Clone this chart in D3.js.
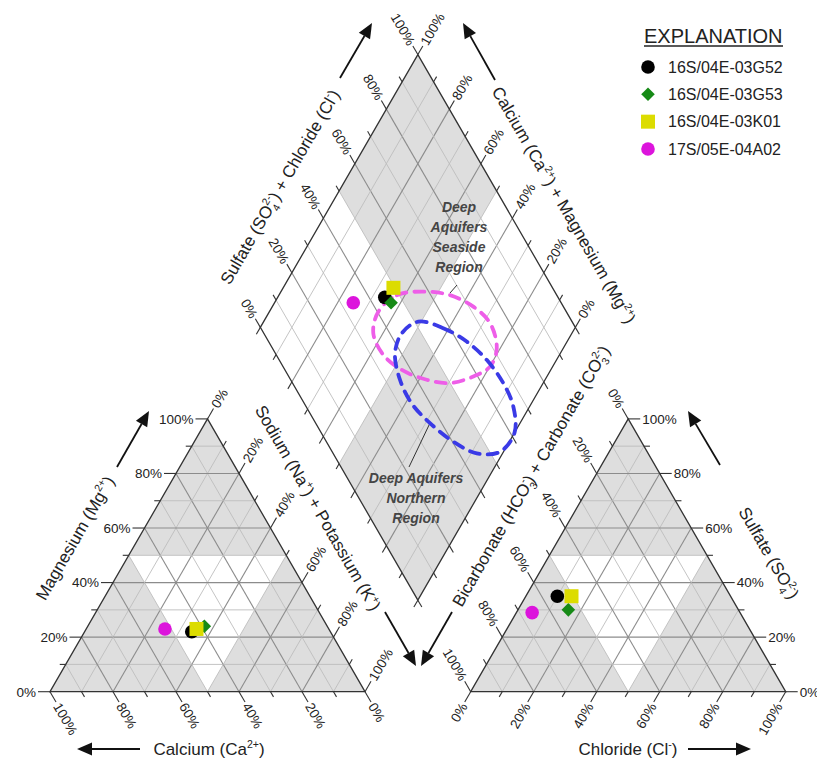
<!DOCTYPE html>
<html>
<head>
<meta charset="utf-8">
<script src="https://cdn.jsdelivr.net/npm/d3@7"></script>
<style>
  html, body { margin: 0; padding: 0; background: #ffffff; }
  svg { display: block; font-family: "Liberation Sans", Arial, sans-serif; }
</style>
</head>
<body>
<svg id="chart" width="817" height="764"></svg>
<script>
// ---- Sample data: major-ion composition, percent of total meq/L ----
const samples = ["16S/04E-03G52", "16S/04E-03G53", "16S/04E-03K01", "17S/05E-04A02"];
const sampleColors = ["#000000", "#168a16", "#dcdc00", "#dc14dc"];
const sampleShapes = ["circle", "diamond", "square", "circle"];

// cations
const calcium         = [44, 39, 42, 52];
const magnesium       = [22, 24, 23, 23];
const sodiumPotassium = [34, 37, 35, 25];
// anions
const bicarbonate = [55, 54, 50.5, 66];
const sulfate     = [35, 30, 35, 29];
const chloride    = [10, 16, 14.5, 5];

// axis ticks
const tickValues = [0, 10, 20, 30, 40, 50, 60, 70, 80, 90, 100];
const labelValues = [0, 20, 40, 60, 80, 100];
const tickLabels = ["0%", "20%", "40%", "60%", "80%", "100%"];

// water-type fields in the diamond, outline points as [SO4+Cl %, Ca+Mg %]
const seasideOutline = [
  [40.3, 65.4], [49.2, 62.6], [58.8, 54.3], [66.1, 45.7], [71.4, 36.2], [73.7, 27.9],
  [71.2, 21.1], [65.7, 19.9], [58.6, 23.4], [50.0, 29.6], [43.2, 37.6], [37.1, 47.3],
  [34.0, 55.9], [34.8, 63.1]
];
const northernOutline = [
  [51.2, 50.9], [57.9, 41.8], [62.9, 31.9], [65.9, 22.2], [66.9, 12.6], [65.8, 5.2],
  [61.4, 0.0], [53.3, 1.1], [45.6, 8.2], [40.3, 17.8], [36.3, 28.6], [34.1, 38.0],
  [34.7, 46.0], [38.0, 52.5], [43.8, 54.0]
];
const fieldNames = ["Deep Aquifers Seaside Region", "Deep Aquifers Northern Region"];
const fieldColors = ["#ee5ee8", "#3a3ae6"];

// ---- Layout ----
const svg = d3.select("#chart");
const S = 315;                       // triangle side
const H = S * Math.sqrt(3) / 2;      // triangle height
const GAP = 105.7;                   // gap between the two triangles
const X0 = 50, Y0 = 691.7;           // lower-left corner of cation triangle

const frac = d3.scaleLinear().domain([0, 100]).range([0, 1]);

// vertices
const vCa  = [X0, Y0], vNaK = [X0 + S, Y0], vMg = [X0 + S / 2, Y0 - H];
const vHCO3 = [X0 + S + GAP, Y0], vCl = [X0 + 2 * S + GAP, Y0], vSO4 = [X0 + S + GAP + S / 2, Y0 - H];
const dB = [X0 + S + GAP / 2, Y0 - GAP / 2 * Math.sqrt(3)];
const dL = [dB[0] - S / 2, dB[1] - H], dR = [dB[0] + S / 2, dB[1] - H], dT = [dB[0], dB[1] - 2 * H];

function mix(pts, w) {
  let x = 0, y = 0;
  pts.forEach((p, i) => { x += p[0] * w[i]; y += p[1] * w[i]; });
  return [x, y];
}
const cationPt = (ca, nak, mg) => mix([vCa, vNaK, vMg], [frac(ca), frac(nak), frac(mg)]);
const anionPt  = (hco3, cl, so4) => mix([vHCO3, vCl, vSO4], [frac(hco3), frac(cl), frac(so4)]);
// diamond: a = SO4+Cl, c = Ca+Mg
const diamondX = d3.scaleLinear().domain([-100, 100]).range([dB[0] - S / 2, dB[0] + S / 2]);
const diamondY = d3.scaleLinear().domain([0, 200]).range([dB[1], dT[1]]);
const diamondPt = (a, c) => [diamondX(a - c), diamondY(a + c)];

const GRAY = "#dedede";
const layerFill = svg.append("g");
const layerGrid = svg.append("g");
const layerEdge = svg.append("g");
const layerText = svg.append("g").attr("fill", "#222");
const layerMarks = svg.append("g");

const lineGen = d3.line();
function poly(g, pts, fill) {
  g.append("path").attr("d", lineGen(pts) + "Z").attr("fill", fill).attr("stroke", "none");
}
const mid = (p, q) => [(p[0] + q[0]) / 2, (p[1] + q[1]) / 2];

// ---- Shading ----
[[vCa, vNaK, vMg], [vHCO3, vCl, vSO4]].forEach(([a, b, c]) => {
  poly(layerFill, [a, b, c], GRAY);
  poly(layerFill, [mid(a, b), mid(b, c), mid(c, a)], "#ffffff");
});
const dC = mid(dL, dR);
poly(layerFill, [dT, mid(dT, dL), dC, mid(dT, dR)], GRAY);
poly(layerFill, [dB, mid(dB, dL), dC, mid(dB, dR)], GRAY);

// ---- Grid ----
function gridLine(p, q, v) {
  const major = v % 20 === 0;
  layerGrid.append("line")
    .attr("x1", p[0]).attr("y1", p[1]).attr("x2", q[0]).attr("y2", q[1])
    .attr("stroke", major ? "#8c8c8c" : "#bdbdbd")
    .attr("stroke-width", major ? 1.1 : 0.9);
}
tickValues.slice(1, -1).forEach(v => {
  // cation triangle
  gridLine(cationPt(100 - v, 0, v), cationPt(0, 100 - v, v), v);
  gridLine(cationPt(v, 100 - v, 0), cationPt(v, 0, 100 - v), v);
  gridLine(cationPt(100 - v, v, 0), cationPt(0, v, 100 - v), v);
  // anion triangle
  gridLine(anionPt(100 - v, 0, v), anionPt(0, 100 - v, v), v);
  gridLine(anionPt(v, 100 - v, 0), anionPt(v, 0, 100 - v), v);
  gridLine(anionPt(100 - v, v, 0), anionPt(0, v, 100 - v), v);
  // diamond
  gridLine(diamondPt(v, 0), diamondPt(v, 100), v);
  gridLine(diamondPt(0, v), diamondPt(100, v), v);
});

// ---- Outlines ----
[[vCa, vNaK, vMg], [vHCO3, vCl, vSO4], [dB, dR, dT, dL]].forEach(pts => {
  layerEdge.append("path").attr("d", lineGen(pts) + "Z")
    .attr("fill", "none").attr("stroke", "#333").attr("stroke-width", 1.3)
    .attr("stroke-linejoin", "miter");
});

// ---- Ticks and tick labels ----
const r3 = Math.sqrt(3) / 2;
function axis(pointAt, dir, rot, anchor, withLabels, majorLen, minorLen) {
  tickValues.forEach(v => {
    const p = pointAt(v);
    const major = v % 20 === 0;
    const len = major ? majorLen : minorLen;
    layerEdge.append("line")
      .attr("x1", p[0]).attr("y1", p[1])
      .attr("x2", p[0] + dir[0] * len).attr("y2", p[1] + dir[1] * len)
      .attr("stroke", "#333").attr("stroke-width", 1.1);
  });
  if (!withLabels) return;
  labelValues.forEach((v, i) => {
    const p = pointAt(v);
    const d = majorLen + 2;
    const x = p[0] + dir[0] * d, y = p[1] + dir[1] * d;
    layerText.append("text")
      .attr("transform", `translate(${x},${y}) rotate(${rot})`)
      .attr("text-anchor", anchor).attr("dy", "0.36em")
      .attr("font-size", 13.5).text(tickLabels[i]);
  });
}
// cation triangle
axis(v => cationPt(100 - v, 0, v), [-1, 0], 0, "end", true, 12, 6);            // Mg
axis(v => cationPt(0, v, 100 - v), [0.5, -r3], -60, "start", true, 12, 6);     // Na+K
axis(v => cationPt(v, 100 - v, 0), [0.5, r3], 60, "start", true, 12, 6);       // Ca
// anion triangle
axis(v => anionPt(0, 100 - v, v), [1, 0], 0, "start", true, 12, 6);            // SO4
axis(v => anionPt(v, 0, 100 - v), [-0.5, -r3], 60, "end", true, 12, 6);        // HCO3
axis(v => anionPt(100 - v, v, 0), [-0.5, r3], -60, "end", true, 12, 6);        // Cl
// diamond
axis(v => diamondPt(v, 100), [-0.5, -r3], 60, "end", true, 10, 6);            // SO4+Cl
axis(v => diamondPt(100, v), [0.5, -r3], -60, "start", true, 10, 6);           // Ca+Mg
axis(v => diamondPt(0, v), [-0.5, r3], 0, "end", false, 8, 6);
axis(v => diamondPt(v, 0), [0.5, r3], 0, "start", false, 8, 6);

// ---- Axis titles with sub/superscripts ----
function rich(sel, parts, size) {
  let shift = 0, lastSubW = 0;
  parts.forEach(([str, kind]) => {
    const t = sel.append("tspan").text(str);
    let target = 0, fs = size;
    if (kind === "sub") { target = 0.28 * size; fs = 0.62 * size; }
    else if (kind === "sup" || kind === "stack") { target = -0.42 * size; fs = 0.62 * size; }
    t.attr("font-size", fs);
    const dy = target - shift;
    if (Math.abs(dy) > 1e-6) t.attr("dy", dy);
    shift = target;
    if (kind === "stack") t.attr("dx", -lastSubW);
    if (kind === "sub") lastSubW = str.length * 0.556 * fs;
  });
}
function title(x, y, rot, parts, size = 17) {
  const t = layerText.append("text")
    .attr("transform", `translate(${x},${y}) rotate(${rot})`)
    .attr("text-anchor", "middle").attr("dy", "0.35em").attr("font-size", size);
  rich(t, parts, size);
}
title(75, 538, -60, [["Magnesium (Mg"], ["2+", "sup"], [")"]]);
title(209, 749, 0, [["Calcium (Ca"], ["2+", "sup"], [")"]]);
title(318, 508, 60, [["Sodium (Na"], ["+", "sup"], [") + Potassium (K"], ["+", "sup"], [")"]]);
title(531, 476, -60, [["Bicarbonate (HCO"], ["3", "sub"], ["-", "stack"], [") + Carbonate (CO"], ["3", "sub"], ["2-", "stack"], [")"]]);
title(628, 749, 0, [["Chloride (Cl"], ["-", "sup"], [")"]]);
title(769, 553, 60, [["Sulfate (SO"], ["4", "sub"], ["2-", "stack"], [")"]]);
title(280, 187, -60, [["Sulfate (SO"], ["4", "sub"], ["2-", "stack"], [") + Chloride (Cl"], ["-", "sup"], [")"]]);
title(564, 205, 60, [["Calcium (Ca"], ["2+", "sup"], [") + Magnesium (Mg"], ["2+", "sup"], [")"]]);

// ---- Direction arrows ----
function arrow(x1, y1, x2, y2) {
  const ang = Math.atan2(y2 - y1, x2 - x1);
  const L = 15, W = 6.5;
  const bx = x2 - Math.cos(ang) * L, by = y2 - Math.sin(ang) * L;
  layerEdge.append("line").attr("x1", x1).attr("y1", y1).attr("x2", bx).attr("y2", by)
    .attr("stroke", "#111").attr("stroke-width", 1.8);
  const nx = -Math.sin(ang) * W, ny = Math.cos(ang) * W;
  layerEdge.append("path")
    .attr("d", `M${x2},${y2}L${bx + nx},${by + ny}L${bx - nx},${by - ny}Z`)
    .attr("fill", "#111");
}
arrow(117, 467, 149, 411);
arrow(140, 749, 77, 749);
arrow(385, 612, 416, 666);
arrow(452, 612, 421, 666);
arrow(688, 749, 751, 749);
arrow(720, 465, 688, 411);
arrow(340, 78, 372, 23);
arrow(495, 80, 463, 23);

// ---- Water-type fields ----
const fieldLine = d3.line()
  .x(d => diamondPt(d[0], d[1])[0])
  .y(d => diamondPt(d[0], d[1])[1])
  .curve(d3.curveCatmullRomClosed.alpha(0.5));
[seasideOutline, northernOutline].forEach((outline, i) => {
  layerMarks.append("path").attr("d", fieldLine(outline))
    .attr("fill", "none").attr("stroke", fieldColors[i])
    .attr("stroke-width", 3.8).attr("stroke-dasharray", "10 8")
    .attr("stroke-linecap", "round");
});

// field labels with leader lines
function fieldLabel(lines, x, y0, lead) {
  const t = layerText.append("text").attr("text-anchor", "middle")
    .attr("font-size", 14).attr("font-weight", "bold").attr("font-style", "italic")
    .attr("fill", "#454545");
  lines.forEach((s, i) => t.append("tspan").attr("x", x).attr("y", y0 + i * 20).text(s));
  layerText.append("line").attr("x1", lead[0]).attr("y1", lead[1]).attr("x2", lead[2]).attr("y2", lead[3])
    .attr("stroke", "#333").attr("stroke-width", 1);
}
fieldLabel(["Deep", "Aquifers", "Seaside", "Region"], 459, 212, [457, 285, 450, 293]);
fieldLabel(["Deep Aquifers", "Northern", "Region"], 416, 482.5, [409, 467, 430, 423]);

// ---- Sample markers ----
function marker(g, shape, color, x, y) {
  if (shape === "circle") {
    g.append("circle").attr("cx", x).attr("cy", y).attr("r", 6.8).attr("fill", color);
  } else if (shape === "square") {
    g.append("rect").attr("x", x - 7).attr("y", y - 7).attr("width", 14).attr("height", 14).attr("fill", color);
  } else {
    g.append("path").attr("d", d3.symbol(d3.symbolSquare, 92)())
      .attr("transform", `translate(${x},${y}) rotate(45)`).attr("fill", color);
  }
}
samples.forEach((s, i) => {
  const pc = cationPt(calcium[i], sodiumPotassium[i], magnesium[i]);
  const pa = anionPt(bicarbonate[i], chloride[i], sulfate[i]);
  const pd = diamondPt(sulfate[i] + chloride[i], calcium[i] + magnesium[i]);
  [pc, pa, pd].forEach(p => marker(layerMarks, sampleShapes[i], sampleColors[i], p[0], p[1]));
});

// ---- Legend ----
const legend = svg.append("g");
legend.append("text").attr("x", 644).attr("y", 43).attr("font-size", 20).attr("fill", "#222")
  .text("EXPLANATION");
legend.append("line").attr("x1", 644).attr("x2", 783).attr("y1", 46).attr("y2", 46)
  .attr("stroke", "#222").attr("stroke-width", 1.5);
const legendY = d3.scalePoint().domain(samples).range([67, 149]);
samples.forEach((s, i) => {
  marker(legend, sampleShapes[i], sampleColors[i], 648, legendY(s));
  legend.append("text").attr("x", 668).attr("y", legendY(s)).attr("dy", "0.36em")
    .attr("font-size", 16).attr("fill", "#222").text(s);
});
</script>
</body>
</html>
